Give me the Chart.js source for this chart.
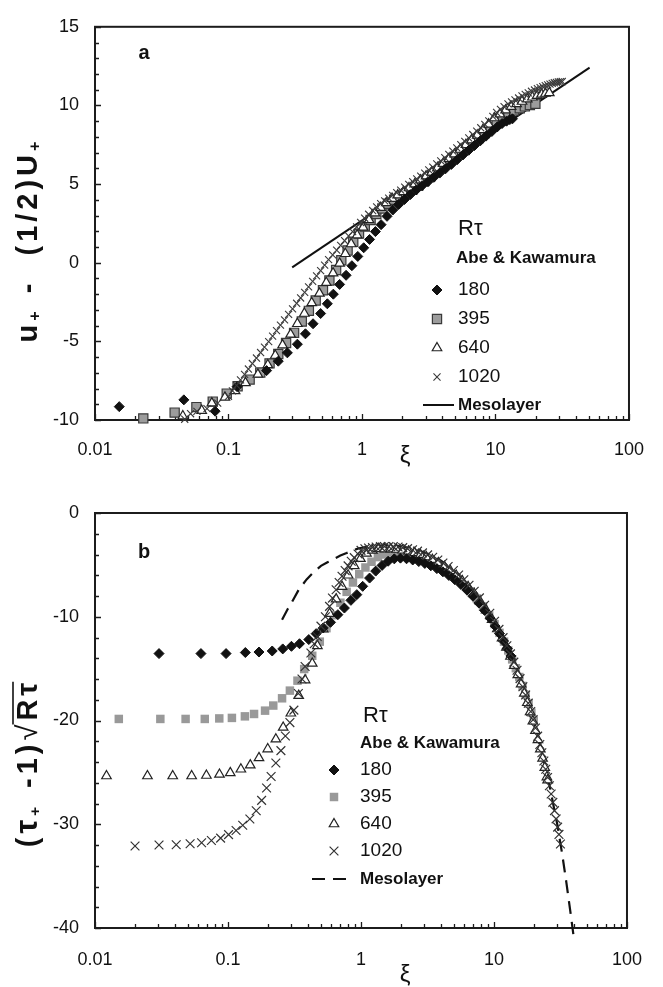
<!DOCTYPE html>
<html>
<head>
<meta charset="utf-8">
<title>Mesolayer scaling – Abe &amp; Kawamura channel DNS</title>
<script src="https://cdn.jsdelivr.net/npm/chart.js@4/dist/chart.umd.min.js"></script>
<style>
  html, body { margin: 0; padding: 0; background: #fff; }
  .panel { position: absolute; left: 0; width: 663px; }
  #panelA { top: 0; height: 480px; }
  #panelB { top: 480px; height: 507px; }
  canvas { display: block; }
</style>
</head>
<body>
<div class="panel" id="panelA"><canvas id="chartA" width="663" height="480"></canvas></div>
<div class="panel" id="panelB"><canvas id="chartB" width="663" height="507"></canvas></div>
<script>
// ---------------- axis ticks ----------------
const xiMajorTicks = [0.01, 0.1, 1, 10, 100];
const xiTickLabels = ['0.01', '0.1', '1', '10', '100'];
const yMajorA = [-10, -5, 0, 5, 10, 15];
const yMajorB = [-40, -30, -20, -10, 0];

// ---------------- series labels ----------------
const seriesLabels = ['180', '395', '640', '1020'];
const mesoLabel = 'Mesolayer';

// ---------------- panel a : u+ - (1/2)U+ versus xi ----------------
const a180 = [[0.0152,-9.15],[0.0463,-8.72],[0.0794,-9.44],[0.116,-7.88],[0.193,-6.86],[0.236,-6.26],[0.276,-5.73],[0.328,-5.18],[0.377,-4.52],[0.43,-3.88],[0.49,-3.23],[0.55,-2.61],[0.61,-2.0],[0.68,-1.38],[0.76,-0.8],[0.84,-0.19],[0.93,0.4],[1.03,0.95],[1.14,1.48],[1.26,1.98],[1.39,2.42],[1.54,2.95],[1.7,3.35],[1.88,3.7],[2.08,4.02],[2.3,4.33],[2.55,4.63],[2.82,4.9],[3.12,5.15],[3.45,5.43],[3.82,5.7],[4.22,5.97],[4.67,6.25],[5.16,6.55],[5.7,6.85],[6.3,7.15],[6.96,7.45],[7.7,7.75],[8.5,8.05],[9.4,8.35],[10.3,8.63],[11.2,8.85],[12.1,9.0],[12.8,9.1],[13.4,9.15]];
const a395 = [[0.023,-9.9],[0.0395,-9.53],[0.0575,-9.18],[0.0762,-8.83],[0.097,-8.32],[0.117,-7.85],[0.144,-7.43],[0.173,-6.98],[0.203,-6.4],[0.236,-5.8],[0.27,-5.1],[0.31,-4.46],[0.354,-3.74],[0.40,-3.06],[0.45,-2.4],[0.51,-1.75],[0.57,-1.13],[0.64,-0.46],[0.70,0.16],[0.78,0.78],[0.86,1.33],[0.95,1.85],[1.05,2.3],[1.16,2.72],[1.28,3.1],[1.42,3.45],[1.57,3.75],[1.74,4.0],[1.93,4.2],[2.14,4.42],[2.38,4.65],[2.64,4.9],[2.93,5.2],[3.25,5.5],[3.6,5.8],[4.0,6.1],[4.44,6.4],[4.93,6.72],[5.47,7.02],[6.07,7.32],[6.74,7.62],[7.48,7.92],[8.3,8.25],[9.2,8.6],[10.2,8.95],[11.3,9.25],[12.5,9.5],[13.8,9.68],[15.2,9.82],[16.6,9.94],[18.1,10.03],[19.9,10.1]];
const a640 = [[0.0455,-9.75],[0.063,-9.4],[0.075,-8.93],[0.094,-8.56],[0.112,-8.15],[0.134,-7.64],[0.166,-7.1],[0.197,-6.5],[0.224,-5.9],[0.254,-5.24],[0.292,-4.56],[0.328,-3.88],[0.37,-3.23],[0.42,-2.55],[0.48,-1.95],[0.54,-1.27],[0.607,-0.66],[0.68,-0.04],[0.75,0.57],[0.83,1.19],[0.92,1.75],[1.02,2.25],[1.13,2.72],[1.25,3.15],[1.38,3.5],[1.52,3.8],[1.68,4.08],[1.85,4.3],[2.04,4.5],[2.25,4.75],[2.48,5.0],[2.74,5.25],[3.02,5.5],[3.33,5.75],[3.67,6.02],[4.05,6.3],[4.47,6.6],[4.93,6.9],[5.44,7.2],[6.0,7.5],[6.62,7.8],[7.3,8.1],[8.05,8.45],[8.88,8.8],[9.8,9.2],[10.8,9.45],[11.9,9.7],[13.1,9.92],[14.4,10.1],[15.8,10.25],[17.3,10.4],[18.9,10.52],[20.5,10.62],[22.1,10.7],[23.7,10.76],[25.3,10.8]];
const a1020 = [[0.047,-9.95],[0.052,-9.6],[0.058,-9.45],[0.069,-9.28],[0.083,-8.93],[0.1,-8.5],[0.107,-8.15],[0.115,-7.8],[0.123,-7.45],[0.132,-7.1],[0.141,-6.76],[0.151,-6.41],[0.162,-6.06],[0.174,-5.71],[0.186,-5.37],[0.2,-5.02],[0.214,-4.67],[0.229,-4.32],[0.245,-3.97],[0.263,-3.63],[0.282,-3.28],[0.302,-2.93],[0.324,-2.58],[0.347,-2.24],[0.372,-1.89],[0.398,-1.54],[0.427,-1.19],[0.457,-0.84],[0.49,-0.5],[0.525,-0.15],[0.562,0.2],[0.603,0.5],[0.646,0.8],[0.692,1.1],[0.741,1.4],[0.794,1.7],[0.851,1.98],[0.912,2.28],[0.977,2.56],[1.047,2.83],[1.122,3.08],[1.202,3.32],[1.288,3.55],[1.38,3.75],[1.479,3.93],[1.585,4.1],[1.698,4.28],[1.82,4.46],[1.95,4.62],[2.089,4.8],[2.239,4.98],[2.399,5.15],[2.57,5.33],[2.754,5.5],[2.951,5.7],[3.162,5.9],[3.39,6.08],[3.63,6.28],[3.89,6.48],[4.17,6.68],[4.47,6.88],[4.79,7.1],[5.13,7.3],[5.5,7.5],[5.89,7.72],[6.31,7.93],[6.76,8.15],[7.24,8.36],[7.76,8.58],[8.32,8.8],[8.91,9.02],[9.55,9.3],[10.2,9.55],[10.9,9.75],[11.6,9.92],[12.4,10.1],[13.2,10.22],[14.0,10.35],[14.9,10.47],[15.8,10.6],[16.7,10.7],[17.6,10.8],[18.6,10.9],[19.6,10.98],[20.6,11.06],[21.6,11.13],[22.6,11.2],[23.6,11.26],[24.6,11.31],[25.6,11.36],[26.6,11.4],[27.6,11.44],[28.6,11.47],[29.6,11.49],[30.6,11.51],[31.6,11.52]];
const aMeso = [[0.3,-0.3],[50.7,12.4]];

// ---------------- panel b : (tau+ - 1) sqrt(R_tau) versus xi ----------------
const b180 = [[0.0303,-13.55],[0.0626,-13.55],[0.0967,-13.55],[0.135,-13.45],[0.171,-13.4],[0.215,-13.3],[0.258,-13.1],[0.30,-12.85],[0.345,-12.6],[0.405,-12.2],[0.46,-11.63],[0.52,-11.08],[0.59,-10.54],[0.67,-9.8],[0.75,-9.16],[0.84,-8.42],[0.93,-7.87],[1.03,-7.07],[1.16,-6.27],[1.29,-5.6],[1.44,-5.05],[1.6,-4.65],[1.78,-4.42],[1.98,-4.35],[2.2,-4.41],[2.45,-4.53],[2.72,-4.68],[3.02,-4.86],[3.35,-5.09],[3.72,-5.36],[4.13,-5.67],[4.58,-6.02],[5.08,-6.43],[5.64,-6.89],[6.26,-7.43],[6.95,-8.02],[7.7,-8.68],[8.5,-9.39],[9.35,-10.14],[10.2,-10.9],[11.0,-11.62],[11.8,-12.34],[12.6,-13.06],[13.4,-13.78]];
const b395 = [[0.0151,-19.85],[0.031,-19.85],[0.048,-19.85],[0.0669,-19.85],[0.086,-19.8],[0.107,-19.75],[0.134,-19.6],[0.157,-19.37],[0.19,-19.05],[0.219,-18.56],[0.255,-17.86],[0.292,-17.12],[0.333,-16.16],[0.374,-15.04],[0.43,-13.76],[0.49,-12.4],[0.55,-11.1],[0.62,-9.85],[0.7,-8.65],[0.78,-7.6],[0.87,-6.7],[0.97,-5.9],[1.08,-5.25],[1.2,-4.7],[1.34,-4.25],[1.49,-4.0],[1.66,-3.9],[1.85,-3.87],[2.06,-3.93],[2.29,-4.03],[2.55,-4.18],[2.84,-4.36],[3.16,-4.58],[3.52,-4.84],[3.92,-5.16],[4.36,-5.52],[4.85,-5.93],[5.4,-6.41],[6.0,-6.94],[6.68,-7.56],[7.43,-8.24],[8.27,-9.01],[9.2,-9.88],[10.1,-10.71],[11.0,-11.55],[11.9,-12.4],[12.8,-13.25],[13.7,-14.11],[14.6,-14.96],[15.5,-15.81],[16.4,-16.67],[17.3,-17.52],[18.2,-18.38],[19.1,-19.24],[19.9,-20.0]];
const b640 = [[0.0122,-25.35],[0.0248,-25.35],[0.0384,-25.35],[0.0533,-25.35],[0.0688,-25.3],[0.0863,-25.2],[0.104,-25.05],[0.125,-24.7],[0.147,-24.3],[0.171,-23.6],[0.199,-22.75],[0.229,-21.8],[0.26,-20.67],[0.297,-19.3],[0.34,-17.6],[0.38,-16.1],[0.43,-14.5],[0.47,-12.8],[0.52,-11.2],[0.58,-9.7],[0.65,-8.3],[0.72,-7.1],[0.8,-6.0],[0.89,-5.1],[0.99,-4.4],[1.1,-3.9],[1.22,-3.6],[1.35,-3.45],[1.5,-3.48],[1.67,-3.48],[1.85,-3.52],[2.05,-3.59],[2.28,-3.7],[2.53,-3.84],[2.8,-4.02],[3.1,-4.24],[3.44,-4.5],[3.82,-4.81],[4.24,-5.17],[4.7,-5.57],[5.2,-6.02],[5.77,-6.54],[6.4,-7.13],[7.1,-7.79],[7.87,-8.53],[8.73,-9.36],[9.68,-10.28],[10.6,-11.18],[11.5,-12.06],[12.4,-12.95],[13.3,-13.83],[14.2,-14.72],[15.1,-15.61],[16.0,-16.5],[16.9,-17.39],[17.8,-18.29],[18.7,-19.18],[19.6,-20.07],[20.5,-20.97],[21.4,-21.86],[22.3,-22.76],[23.2,-23.66],[24.1,-24.55],[25.0,-25.45],[25.3,-25.75]];
const b1020 = [[0.02,-32.1],[0.0303,-32.0],[0.0408,-31.97],[0.0519,-31.88],[0.0633,-31.78],[0.075,-31.56],[0.088,-31.34],[0.101,-31.0],[0.115,-30.6],[0.129,-30.1],[0.146,-29.5],[0.163,-28.7],[0.179,-27.7],[0.195,-26.5],[0.211,-25.4],[0.229,-24.1],[0.25,-22.9],[0.27,-21.5],[0.292,-20.2],[0.313,-19.0],[0.338,-17.4],[0.36,-16.0],[0.38,-14.8],[0.42,-13.5],[0.445,-12.6],[0.469,-11.9],[0.5,-10.9],[0.54,-10.0],[0.58,-9.0],[0.61,-8.2],[0.65,-7.4],[0.685,-6.7],[0.72,-6.1],[0.76,-5.55],[0.8,-5.1],[0.845,-4.65],[0.89,-4.3],[0.95,-3.95],[1.0,-3.6],[1.07,-3.45],[1.14,-3.38],[1.22,-3.32],[1.3,-3.28],[1.4,-3.24],[1.5,-3.23],[1.62,-3.23],[1.75,-3.24],[1.9,-3.28],[2.06,-3.34],[2.24,-3.43],[2.44,-3.54],[2.66,-3.68],[2.9,-3.84],[3.17,-4.04],[3.46,-4.27],[3.78,-4.53],[4.13,-4.82],[4.52,-5.16],[4.95,-5.54],[5.42,-5.97],[5.93,-6.44],[6.49,-6.97],[7.1,-7.54],[7.77,-8.18],[8.5,-8.89],[9.3,-9.66],[10.1,-10.44],[10.9,-11.22],[11.7,-12.01],[12.5,-12.8],[13.3,-13.58],[14.1,-14.37],[14.9,-15.16],[15.7,-15.96],[16.5,-16.75],[17.3,-17.54],[18.1,-18.33],[18.9,-19.13],[19.7,-19.92],[20.5,-20.72],[21.3,-21.51],[22.1,-22.31],[22.9,-23.11],[23.7,-23.9],[24.5,-24.7],[25.3,-25.5],[26.1,-26.29],[26.9,-27.09],[27.7,-27.89],[28.5,-28.69],[29.3,-29.48],[30.1,-30.28],[30.8,-30.98],[31.6,-31.9]];
const bMeso = [[0.255,-10.3],[0.28,-9.3],[0.305,-8.5],[0.34,-7.4],[0.39,-6.4],[0.44,-5.7],[0.5,-5.1],[0.56,-4.75],[0.63,-4.4],[0.7,-4.1],[0.78,-3.86],[0.87,-3.6],[0.97,-3.4],[1.1,-3.25],[1.3,-3.15],[1.56,-3.12],[1.9,-3.2],[2.4,-3.4],[3.0,-3.8],[4.0,-4.6],[5.5,-5.95],[7.5,-7.8],[10,-10.25],[14,-14.2],[18,-18.15],[22,-22.1],[26,-26.1],[30,-30.1],[32.5,-32.8],[35,-35.6],[37.5,-38.4],[39.5,-40.6]];

// ---------------- shared helpers ----------------
const FONT = "'Liberation Sans', Arial, Helvetica, sans-serif";
const INK = '#111';
Chart.defaults.font.family = FONT;
Chart.defaults.color = INK;

const pts = arr => arr.map(([x, y]) => ({ x, y }));

// minor ticks: 1..9 in every decade of the log axis
const xiAllTicks = [];
xiMajorTicks.slice(0, -1).forEach(d => { for (let k = 1; k <= 9; k++) xiAllTicks.push(+(k * d).toPrecision(3)); });
xiAllTicks.push(xiMajorTicks[xiMajorTicks.length - 1]);

function xiLabel(v) {
  const i = xiMajorTicks.findIndex(m => Math.abs(Math.log10(v) - Math.log10(m)) < 1e-6);
  return i >= 0 ? xiTickLabels[i] : '';
}

function linearTicks(min, max, step) {
  const out = [];
  for (let v = min; v <= max + 1e-9; v += step) out.push(+v.toFixed(6));
  return out;
}

function drawMarker(ctx, ds, x, y) {
  ctx.save();
  ctx.fillStyle = ds.pointBackgroundColor;
  ctx.strokeStyle = ds.pointBorderColor;
  ctx.lineWidth = ds.pointBorderWidth;
  Chart.helpers.drawPoint(ctx, {
    pointStyle: ds.pointStyle, radius: ds.pointRadius, rotation: 0,
    borderWidth: ds.pointBorderWidth
  }, x, y);
  ctx.restore();
}

// rotated title made of runs (different sizes / offsets), drawn glyph by glyph with tracking
function drawRuns(ctx, runs, cx, cy, rot, spacing, baseShift) {
  ctx.save();
  ctx.translate(cx, cy);
  ctx.rotate(rot);
  ctx.textAlign = 'left';
  ctx.textBaseline = 'alphabetic';
  ctx.fillStyle = INK;
  let total = 0;
  runs.forEach(r => {
    ctx.font = r.font;
    r.glyphs = Array.from(r.t).map(ch => ({ ch, w: ctx.measureText(ch).width + spacing }));
    r.w = r.glyphs.reduce((s, g) => s + g.w, 0) + (r.gap || 0);
    total += r.w;
  });
  total -= spacing;
  let x = -total / 2;
  runs.forEach(r => {
    ctx.font = r.font;
    const x0 = x;
    r.glyphs.forEach(g => { ctx.fillText(g.ch, x, baseShift + (r.dy || 0)); x += g.w; });
    x += r.gap || 0;
    if (r.over) {
      ctx.strokeStyle = INK;
      ctx.lineWidth = 1.6;
      ctx.beginPath();
      ctx.moveTo(x0 - r.overLead, baseShift - r.over);
      ctx.lineTo(x - spacing + 1, baseShift - r.over);
      ctx.stroke();
    }
  });
  ctx.restore();
}

// frame, inward ticks, panel letter, axis titles and legend
const panelPlugin = {
  id: 'panel',
  beforeDatasetsDraw(chart, args, o) {
    const { ctx, chartArea: a } = chart;
    const xs = chart.scales.x, ys = chart.scales.y;
    ctx.save();
    ctx.strokeStyle = '#1c1c1c';
    ctx.lineWidth = 2;
    ctx.strokeRect(a.left, a.top, a.right - a.left, a.bottom - a.top);
    ctx.lineWidth = 1.3;
    ctx.beginPath();
    xs.ticks.forEach(t => {
      const px = Math.round(xs.getPixelForValue(t.value)) + 0.5;
      const len = xiLabel(t.value) ? 6 : 4;
      ctx.moveTo(px, a.bottom);
      ctx.lineTo(px, a.bottom - len);
    });
    ys.ticks.forEach(t => {
      const py = Math.round(ys.getPixelForValue(t.value)) + 0.5;
      const len = o.yMajor.includes(t.value) ? 6 : 4;
      ctx.moveTo(a.left, py);
      ctx.lineTo(a.left + len, py);
    });
    ctx.stroke();
    ctx.restore();
  },
  afterDraw(chart, args, o) {
    const { ctx } = chart;
    ctx.save();
    ctx.fillStyle = INK;
    ctx.font = `bold 20px ${FONT}`;
    ctx.textAlign = 'center';
    ctx.textBaseline = 'middle';
    ctx.fillText(o.letter, o.letterPos[0], o.letterPos[1]);
    ctx.font = `24px ${FONT}`;
    ctx.fillText('ξ', o.xiPos[0], o.xiPos[1]);
    ctx.restore();
    drawRuns(ctx, o.yTitle, o.yTitlePos[0], o.yTitlePos[1], -Math.PI / 2, o.yTitleSpacing, 10);
    // legend
    const L = o.legend;
    ctx.save();
    ctx.fillStyle = INK;
    ctx.textAlign = 'left';
    ctx.textBaseline = 'middle';
    ctx.font = `22px ${FONT}`;
    ctx.fillText('Rτ', L.headX, L.headY);
    ctx.font = `bold 17px ${FONT}`;
    ctx.fillText('Abe & Kawamura', L.subX, L.subY);
    const ds = chart.data.datasets;
    L.rows.forEach((y, i) => {
      const d = ds.find(s => s.label === L.order[i]);
      if (d.showLine) {
        ctx.save();
        ctx.strokeStyle = d.borderColor;
        ctx.lineWidth = d.borderWidth;
        ctx.setLineDash(d.borderDash || []);
        ctx.beginPath();
        ctx.moveTo(L.lineX[0], y);
        ctx.lineTo(L.lineX[1], y);
        ctx.stroke();
        ctx.restore();
        ctx.font = `bold 17px ${FONT}`;
      } else {
        drawMarker(ctx, d, L.markX, y);
        ctx.font = `19px ${FONT}`;
      }
      ctx.fillStyle = INK;
      ctx.fillText(d.label, L.textX, y);
    });
    ctx.restore();
  }
};

function scatterSet(label, data, style, order) {
  return Object.assign({ label, data: pts(data), showLine: false, order, clip: false, pointHoverRadius: 0 }, style);
}
function lineSet(label, data, style) {
  return Object.assign({ label, data: pts(data), showLine: true, pointRadius: 0, fill: false, order: 10, clip: false, tension: 0 }, style);
}

function buildChart(id, cfg) {
  return new Chart(document.getElementById(id), {
    type: 'scatter',
    data: { datasets: cfg.datasets },
    options: {
      responsive: false,
      animation: false,
      devicePixelRatio: 1,
      events: [],
      layout: { padding: { left: 0, right: 27, top: cfg.top, bottom: 0 } },
      plugins: { legend: { display: false }, tooltip: { enabled: false }, panel: cfg.panel },
      scales: {
        x: {
          type: 'logarithmic', min: 0.01, max: 100, position: 'bottom',
          grid: { display: false, drawTicks: false }, border: { display: false },
          afterBuildTicks: s => { s.ticks = xiAllTicks.map(v => ({ value: v })); },
          afterFit: s => { s.height = cfg.xHeight; },
          ticks: { autoSkip: false, maxRotation: 0, minRotation: 0, padding: cfg.xPad,
                   font: { size: 18 }, color: INK, callback: v => xiLabel(v) }
        },
        y: {
          type: 'linear', min: cfg.yMin, max: cfg.yMax,
          grid: { display: false, drawTicks: false }, border: { display: false },
          afterBuildTicks: s => { s.ticks = linearTicks(cfg.yMin, cfg.yMax, cfg.yStep).map(v => ({ value: v })); },
          afterFit: s => { s.width = 95; },
          ticks: { autoSkip: false, padding: 16, font: { size: 18 }, color: INK,
                   callback: v => cfg.panel.yMajor.includes(v) ? String(v) : '' }
        }
      }
    },
    plugins: [panelPlugin]
  });
}

const styleDiamond = { pointStyle: 'rectRot', pointRadius: 5, pointBackgroundColor: '#111', pointBorderColor: '#111', pointBorderWidth: 1 };
const styleTriangle = { pointStyle: 'triangle', pointRadius: 5.5, pointBackgroundColor: '#fff', pointBorderColor: '#222', pointBorderWidth: 1.2 };
const legendOrder = seriesLabels.concat([mesoLabel]);

// ---------------- panel a ----------------
buildChart('chartA', {
  top: 14, xHeight: 60, xPad: 19, yMin: -10, yMax: 15, yStep: 1,
  datasets: [
    scatterSet(seriesLabels[3], a1020, { pointStyle: 'crossRot', pointRadius: 5, pointBackgroundColor: '#3a3a3a', pointBorderColor: '#3a3a3a', pointBorderWidth: 1.1 }, 1),
    scatterSet(seriesLabels[0], a180, styleDiamond, 2),
    scatterSet(seriesLabels[2], a640, styleTriangle, 3),
    scatterSet(seriesLabels[1], a395, { pointStyle: 'rect', pointRadius: 6.5, pointBackgroundColor: '#9c9c9c', pointBorderColor: '#3a3a3a', pointBorderWidth: 1.2 }, 4),
    lineSet(mesoLabel, aMeso, { borderColor: '#111', borderWidth: 2 })
  ],
  panel: {
    letter: 'a', letterPos: [144, 53], xiPos: [405, 456], yMajor: yMajorA,
    yTitlePos: [27, 242], yTitleSpacing: 4,
    yTitle: [
      { t: 'u', font: `bold 29px ${FONT}` },
      { t: '+', font: `bold 16px ${FONT}`, dy: 3, gap: 2 },
      { t: ' -  (1/2)U', font: `bold 29px ${FONT}` },
      { t: '+', font: `bold 16px ${FONT}`, dy: 3 }
    ],
    legend: { order: legendOrder, headX: 458, headY: 229, subX: 456, subY: 258, markX: 437, textX: 458, lineX: [423, 454],
              rows: [290, 319, 348, 377, 405] }
  }
});

// ---------------- panel b ----------------
buildChart('chartB', {
  top: 33, xHeight: 59, xPad: 21, yMin: -40, yMax: 0, yStep: 2,
  datasets: [
    scatterSet(seriesLabels[3], b1020, { pointStyle: 'crossRot', pointRadius: 6.2, pointBackgroundColor: '#333', pointBorderColor: '#333', pointBorderWidth: 1.2 }, 1),
    scatterSet(seriesLabels[0], b180, styleDiamond, 2),
    scatterSet(seriesLabels[2], b640, styleTriangle, 3),
    scatterSet(seriesLabels[1], b395, { pointStyle: 'rect', pointRadius: 6, pointBackgroundColor: '#999', pointBorderColor: '#999', pointBorderWidth: 0 }, 4),
    lineSet(mesoLabel, bMeso, { borderColor: '#111', borderWidth: 2.2, borderDash: [13, 8] })
  ],
  panel: {
    letter: 'b', letterPos: [144, 72], xiPos: [405, 495], yMajor: yMajorB,
    yTitlePos: [27, 285], yTitleSpacing: 4,
    yTitle: [
      { t: '(', font: `bold 29px ${FONT}` },
      { t: 'τ', font: `bold 31px ${FONT}` },
      { t: '+', font: `bold 15px ${FONT}`, dy: 3, gap: 3 },
      { t: ' -1)', font: `bold 29px ${FONT}` },
      { t: '√', font: `29px ${FONT}` },
      { t: 'Rτ', font: `bold 29px ${FONT}`, over: 24, overLead: 4 }
    ],
    legend: { order: legendOrder, headX: 363, headY: 236, subX: 360, subY: 263, markX: 334, textX: 360, lineX: [312, 352],
              rows: [290, 317, 344, 371, 399] }
  }
});
</script>
</body>
</html>
